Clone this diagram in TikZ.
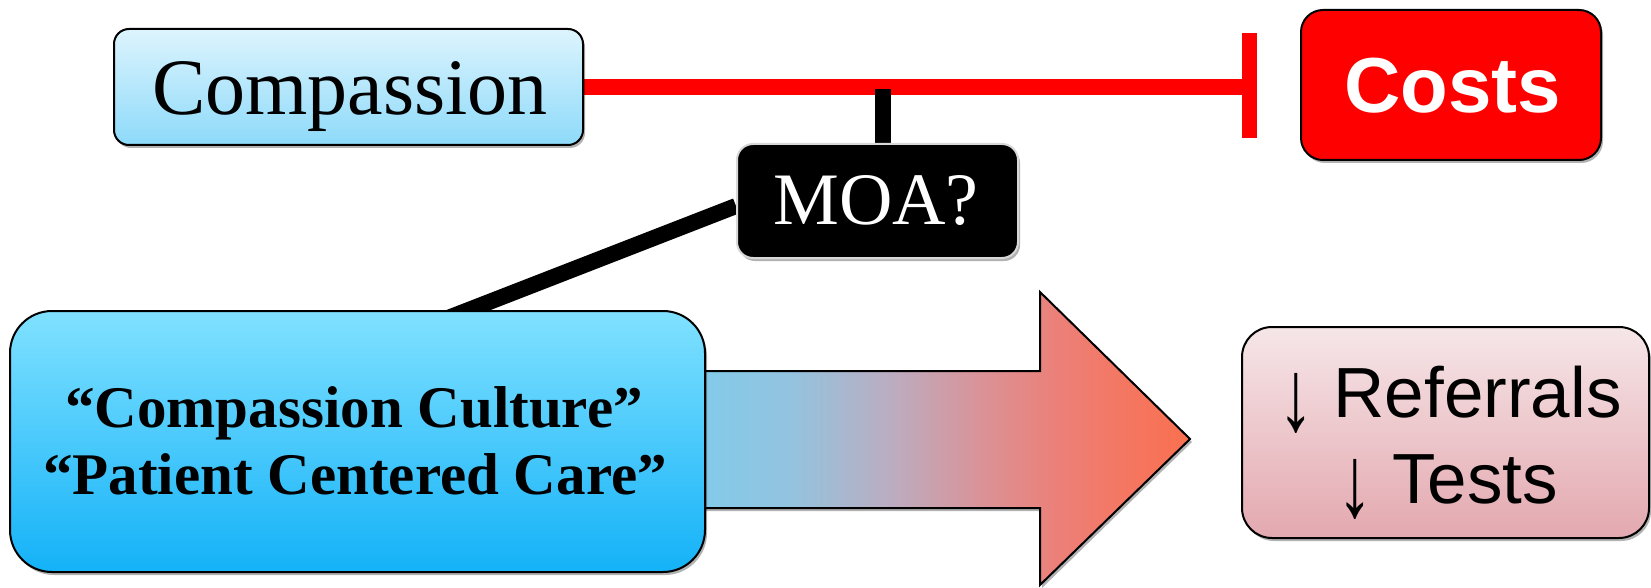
\documentclass[tikz,border=0pt]{standalone}
\usepackage{fontspec}
\setmainfont{Liberation Serif}
\setsansfont{Liberation Sans}
\usetikzlibrary{shadows}

\definecolor{compTop}{HTML}{DDF4FD}
\definecolor{compBot}{HTML}{8DDAFA}
\definecolor{ccTop}{HTML}{80E1FF}
\definecolor{ccBot}{HTML}{14B2F8}
\definecolor{outTop}{HTML}{F6E6E8}
\definecolor{outBot}{HTML}{E3A8AF}
\definecolor{costRed}{HTML}{FF0000}
\definecolor{moaEdge}{HTML}{D8D8D8}
\definecolor{flowA}{HTML}{80CCEB}
\definecolor{flowB}{HTML}{93C3DF}
\definecolor{flowC}{HTML}{BBADC1}
\definecolor{flowD}{HTML}{DD9093}
\definecolor{flowE}{HTML}{EC8079}
\definecolor{flowF}{HTML}{F47763}
\definecolor{flowH}{HTML}{F9704F}

% blue-to-coral blend for the big arrow (path box maps to 25bp..75bp)
\pgfdeclarehorizontalshading{flowshade}{100bp}{color(0bp)=(flowA); color(25bp)=(flowA);
  color(35bp)=(flowB); color(45bp)=(flowC); color(55bp)=(flowD); color(61.7bp)=(flowE);
  color(68bp)=(flowF); color(75bp)=(flowH); color(100bp)=(flowH)}

\pgfdeclarelayer{bg}
\pgfsetlayers{bg,main}

% arrow glyph stretched to span from above the cap line to below the baseline
\newcommand\fallmark{\raisebox{-13pt}{\scalebox{1}[1.43]{↓}}}

\tikzset{
  shadowed/.style={drop shadow={shadow xshift=2pt, shadow yshift=-3pt, opacity=0.3, fill=black}},
  panel/.style={rectangle, draw=black, line width=2pt, inner sep=0pt, shadowed},
  compbox/.style={panel, rounded corners=15pt, top color=compTop, bottom color=compBot,
    minimum width=469pt, minimum height=116pt},
  costbox/.style={panel, rounded corners=22pt, fill=costRed, minimum width=300pt, minimum height=150pt},
  moabox/.style={panel, draw=moaEdge, rounded corners=16pt, fill=black,
    minimum width=281pt, minimum height=114pt},
  culturebox/.style={panel, rounded corners=42pt, top color=ccTop, bottom color=ccBot,
    minimum width=695pt, minimum height=261pt},
  outcomebox/.style={panel, rounded corners=30pt, top color=outTop, bottom color=outBot,
    minimum width=407pt, minimum height=211pt},
  txt/.style={anchor=base, inner sep=0pt},
  inhibit/.style={draw=costRed, line width=16pt},
  tbar/.style={draw=costRed, line width=15pt},
  link/.style={draw=black, line width=16pt},
  flowarrow/.style={draw=black, line width=2pt, shade, shading=flowshade, shadowed},
  serifbig/.style={font=\rmfamily\fontsize{80}{90}\selectfont},
  serifmid/.style={font=\rmfamily\fontsize{74}{80}\selectfont},
  serifbold/.style={font=\rmfamily\bfseries\fontsize{59}{67}\selectfont},
  sansbold/.style={font=\sffamily\bfseries\fontsize{78}{90}\selectfont},
  sansmid/.style={font=\sffamily\fontsize{71}{86}\selectfont},
}

\begin{document}
\begin{tikzpicture}[x=1pt,y=-1pt]
\useasboundingbox (0,0) rectangle (1651,588);

% boxes
\node[compbox]    (comp)  at (348.5,87)   {};
\node[costbox]    (costs) at (1451,85)    {};
\node[moabox]     (moa)   at (877.5,201)  {};
\node[culturebox] (cc)    at (357.5,441.5) {};
\node[outcomebox] (out)   at (1445.5,432.5) {};

% texts
\node[txt, serifbig] (compT) at (350,115) {Compassion};
\node[txt, sansbold, text=white] (costsT) at (1452.5,113) {Costs};
\node[txt, serifmid, text=white] (moaT) at (876,225) {MOA?};
\node[txt, serifbold] (ccA) at (354,427) {“Compassion Culture”};
\node[txt, serifbold] (ccB) at (355,494) {“Patient Centered Care”};
\node[txt, sansmid] (outA) at (1450,417) {\fallmark\ Referrals};
\node[txt, sansmid] (outB) at (1447.5,503) {\fallmark\ Tests};

% connectors and the big arrow, kept behind the boxes
\coordinate (inh) at (1249.5,86);
\coordinate (hit) at (882.5,89);
\coordinate (ccjoin) at (430,325);
\begin{pgfonlayer}{bg}
  \fill[white] (0,0) rectangle (1651,588);
  \path[flowarrow] (690,371) -- (1040,371) -- (1040,292) -- (1190,439)
    -- (1040,585) -- (1040,508) -- (690,508) -- cycle;
  \draw[inhibit] (comp.east) -- (comp.east -| inh);
  \draw[tbar] ([yshift=52.5pt]inh) -- ([yshift=-52.5pt]inh);
  \draw[link] (moa.north -| hit) -- (hit);
  \draw[link] ([yshift=-5pt]moa.west) -- (ccjoin);
\end{pgfonlayer}
\end{tikzpicture}
\end{document}
